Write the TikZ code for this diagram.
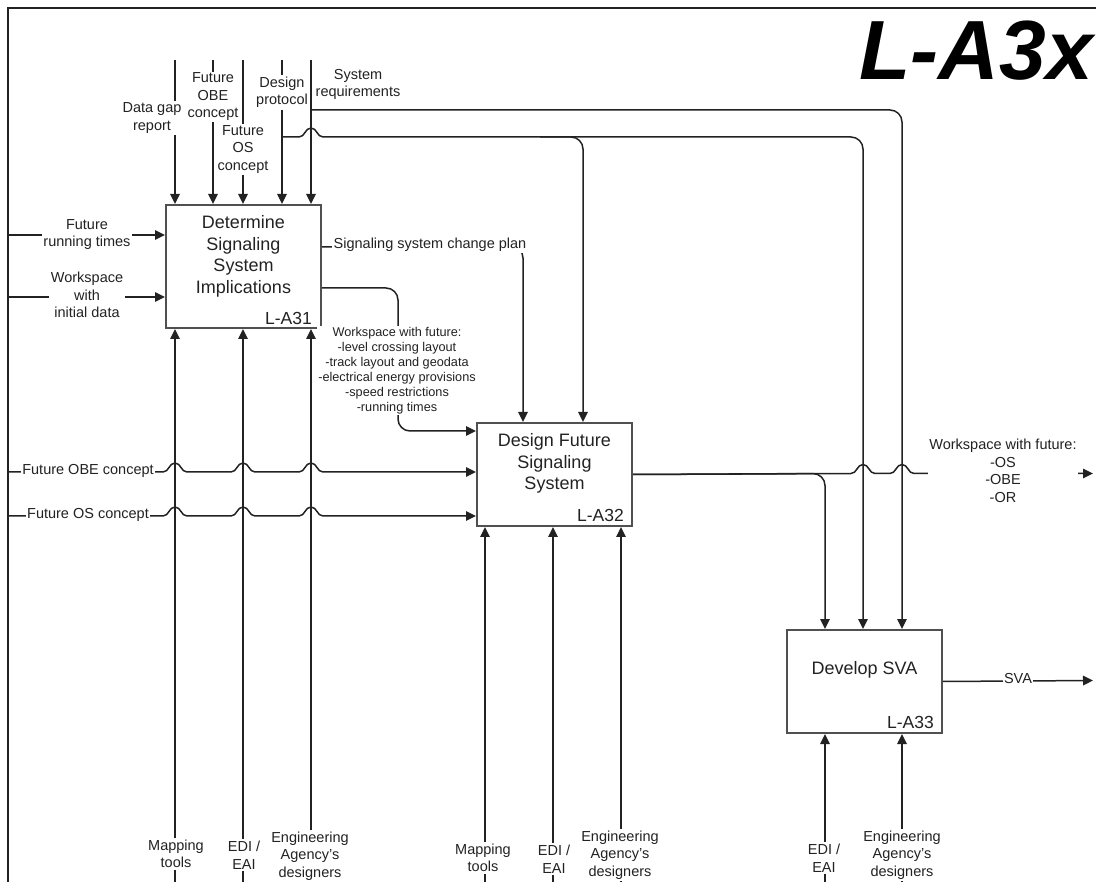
\documentclass[tikz,border=0pt]{standalone}
\usepackage{fontspec}
\setmainfont{Liberation Sans}
\usepackage{tikz}
\usetikzlibrary{positioning}
\usetikzlibrary{arrows.meta}
\definecolor{inkgray}{HTML}{222222}
\definecolor{boxgray}{HTML}{505050}
\tikzset{
  func_box/.style = {draw=boxgray, line width=2pt, minimum width=155pt,
    anchor=north west, inner sep=0pt},% activity box
  func_title/.style = {align=center, inner sep=0pt, text=inkgray,
    font=\fontsize{18}{21.5}\selectfont},% activity name
  func_id/.style = {inner sep=0pt, text=inkgray,
    font=\fontsize{17.5}{20}\selectfont},% node number, lower right
  flow/.style = {draw=inkgray, line width=1.5pt,
    -{Triangle[length=10pt, width=9.5pt]}},% ICOM arrow
  flow_turn/.style = {flow, rounded corners=12pt},% ICOM arrow with bends
  flow_plain/.style = {draw=inkgray, line width=1.5pt},% arrow part without tip
  arc_label/.style = {align=center, fill=white, inner sep=1.5pt, text=inkgray,
    font=\fontsize{14.5}{17.5}\selectfont},% arrow label
  arc_note/.style = {arc_label, font=\fontsize{12.7}{15}\selectfont}% long arrow label
}
% little jump over a vertical line at x=#1, on a horizontal line at y=#2
\newcommand{\linehop}[2]{-- ({#1-12},#2) .. controls ({#1-6},#2) and ({#1-6},{#2-9}) .. (#1,{#2-9}) .. controls ({#1+6},{#2-9}) and ({#1+6},#2) .. ({#1+12},#2)}

\begin{document}
\begin{tikzpicture}[x=1pt, y=-1pt]
      \useasboundingbox (0,0) rectangle (1096,882);
      \clip (0,0) rectangle (1096,882);
      % sheet frame and number
      \coordinate (frame_nw) at (8,8);
      \draw[inkgray, line width=2pt] (8,900) -- (frame_nw) -- (1110,8);
      \node[anchor=base east, inner sep=0pt, text=black,
        font=\fontsize{84}{84}\selectfont\bfseries\itshape] (sheet_id) at (1093,80) {L-A3x};

      % activities
      \node[func_box, minimum height=123pt] (a31) at (165,204) {};
      \node[func_box, minimum height=103pt] (a32) at (476,422) {};
      \node[func_box, minimum height=103pt] (a33) at (786,629) {};
      \node[func_title, below=11.5pt of a31.north] (a31_name) {Determine\\Signaling\\System\\Implications};
      \node[func_title, below=11.5pt of a32.north] (a32_name) {Design Future\\Signaling\\System};
      \node[func_title, below=32pt of a33.north] (a33_name) {Develop SVA};
      \node[func_id, above left=4pt and 10pt of a31.south east] (a31_id) {L-A31};
      \node[func_id, above left=5pt and 9pt of a32.south east] (a32_id) {L-A32};
      \node[func_id, above left=5pt and 9pt of a33.south east] (a33_id) {L-A33};

      % controls of A31
      \coordinate (gap_top) at (175,60);
      \coordinate (obe_top) at (213,60);
      \coordinate (os_top) at (243,60);
      \coordinate (prot_top) at (282,60);
      \coordinate (req_top) at (311,60);
      \draw[flow] (gap_top) -- (gap_top |- a31.north);
      \draw[flow] (obe_top) -- (obe_top |- a31.north);
      \draw[flow] (os_top) -- (os_top |- a31.north);
      \draw[flow] (prot_top) -- (prot_top |- a31.north);
      \draw[flow] (req_top) -- (req_top |- a31.north);

      % protocol and requirements carried on to A32 and A33
      \coordinate (prot_br) at (282,137);
      \coordinate (prot_hop) at (323,137);
      \coordinate (prot_mid) at (540,137);
      \coordinate (prot_a32) at (583,137);
      \coordinate (prot_a33) at (863,137);
      \coordinate (req_br) at (311,110);
      \coordinate (req_a33) at (902,110);
      \draw[flow_plain] (prot_br) \linehop{311}{137};
      \draw[flow_turn] (prot_hop) -- (prot_a33) -- (prot_a33 |- a33.north);
      \draw[flow_turn] (prot_mid) -- (prot_a32) -- (prot_a32 |- a32.north);
      \draw[flow_turn] (req_br) -- (req_a33) -- (req_a33 |- a33.north);

      % inputs
      \coordinate (rt_in) at (8,235);
      \coordinate (ws_in) at (8,297);
      \coordinate (obe_in) at (8,472);
      \coordinate (os_in) at (8,516);
      \draw[flow] (rt_in) -- (rt_in -| a31.west);
      \draw[flow] (ws_in) -- (ws_in -| a31.west);
      \draw[flow] (obe_in) \linehop{175}{472} \linehop{243}{472} \linehop{311}{472} -- (obe_in -| a32.west);
      \draw[flow] (os_in) \linehop{175}{516} \linehop{243}{516} \linehop{311}{516} -- (os_in -| a32.west);

      % outputs of A31
      \coordinate (plan_turn) at (523,246);
      \coordinate (ws_turn) at (398,431);
      \draw[flow_turn] ([yshift=19.5pt]a31.east) -- (plan_turn) -- (plan_turn |- a32.north);
      \draw[flow_turn] ([yshift=-21.5pt]a31.east) -| (ws_turn) -- (ws_turn -| a32.west);

      % outputs of A32 and A33
      \coordinate (ws2_turn) at (825,473.5);
      \coordinate (ws2_out) at (1093,473.5);
      \coordinate (sva_out) at (1093,680.5);
      \draw[flow] (a32.east) \linehop{863}{473.5} \linehop{902}{473.5} -- (ws2_out);
      \draw[flow_turn] (a32.east) -- (ws2_turn) -- (ws2_turn |- a33.north);
      \draw[flow] (a33.east) -- (sva_out);

      % mechanisms
      \coordinate (map1_bot) at (175,890);
      \coordinate (edi1_bot) at (243,890);
      \coordinate (eng1_bot) at (311,890);
      \coordinate (map2_bot) at (485,890);
      \coordinate (edi2_bot) at (553,890);
      \coordinate (eng2_bot) at (621,890);
      \coordinate (edi3_bot) at (825,890);
      \coordinate (eng3_bot) at (902,890);
      \draw[flow] (map1_bot) -- (map1_bot |- a31.south);
      \draw[flow] (edi1_bot) -- (edi1_bot |- a31.south);
      \draw[flow] (eng1_bot) -- (eng1_bot |- a31.south);
      \draw[flow] (map2_bot) -- (map2_bot |- a32.south);
      \draw[flow] (edi2_bot) -- (edi2_bot |- a32.south);
      \draw[flow] (eng2_bot) -- (eng2_bot |- a32.south);
      \draw[flow] (edi3_bot) -- (edi3_bot |- a33.south);
      \draw[flow] (eng3_bot) -- (eng3_bot |- a33.south);

      % arrow labels
      \node[arc_label] (gap_lbl) at (152,118) {Data gap\\report};
      \node[arc_label] (obe_lbl) at (213,97) {Future\\OBE\\concept};
      \node[arc_label] (os_lbl) at (243,149.5) {Future\\OS\\concept};
      \node[arc_label] (prot_lbl) at (282,92.5) {Design\\protocol};
      \node[arc_label] (req_lbl) at (358,84.5) {System\\requirements};
      \node[arc_label] (rt_lbl) at (87,234.5) {Future\\running times};
      \node[arc_label] (ws_lbl) at (87,295) {Workspace\\with\\initial data};
      \node[arc_label] (obe_in_lbl) at (88,471) {Future OBE concept};
      \node[arc_label] (os_in_lbl) at (88,515) {Future OS concept};
      \node[arc_label] (plan_lbl) at (430,245) {Signaling system change plan};
      \node[arc_note] (ws_out_lbl) at (397,370.5) {Workspace with future:\\-level crossing layout\\-track layout and geodata\\-electrical energy provisions\\-speed restrictions\\-running times};
      \node[arc_label] (ws2_lbl) at (1003,471) {Workspace with future:\\-OS\\-OBE\\-OR};
      \node[arc_label] (sva_lbl) at (1018,679) {SVA};
      \node[arc_label] (map1_lbl) at (176,854) {Mapping\\tools};
      \node[arc_label] (edi1_lbl) at (244,855) {EDI /\\EAI};
      \node[arc_label] (eng1_lbl) at (310,856) {Engineering\\Agency's\\designers};
      \node[arc_label] (map2_lbl) at (483,858) {Mapping\\tools};
      \node[arc_label] (edi2_lbl) at (554,859) {EDI /\\EAI};
      \node[arc_label] (eng2_lbl) at (620,855) {Engineering\\Agency's\\designers};
      \node[arc_label] (edi3_lbl) at (824,858) {EDI /\\EAI};
      \node[arc_label] (eng3_lbl) at (902,855) {Engineering\\Agency's\\designers};
    \end{tikzpicture}
\end{document}
